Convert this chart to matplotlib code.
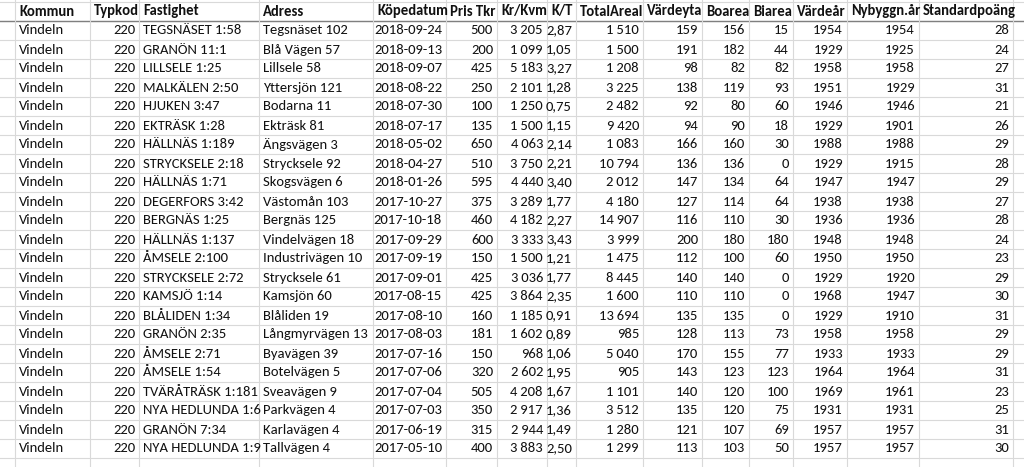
import matplotlib
matplotlib.use("Agg")
import matplotlib.pyplot as plt
from matplotlib import font_manager

headers = ["Kommun", "Typkod", "Fastighet", "Adress", "Köpedatum", "Pris Tkr", "Kr/Kvm", "K/T",
           "TotalAreal", "Värdeyta", "Boarea", "Biarea", "Värdeår", "Nybyggn.år", "Standardpoäng"]
kommun = ["Vindeln"] * 23
typkod = [220] * 23
fastighet = ["TEGSNÄSET 1:58", "GRANÖN 11:1", "LILLSELE 1:25", "MALKÄLEN 2:50", "HJUKEN 3:47", "EKTRÄSK 1:28",
             "HÄLLNÄS 1:189", "STRYCKSELE 2:18", "HÄLLNÄS 1:71", "DEGERFORS 3:42", "BERGNÄS 1:25", "HÄLLNÄS 1:137",
             "ÅMSELE 2:100", "STRYCKSELE 2:72", "KAMSJÖ 1:14", "BLÅLIDEN 1:34", "GRANÖN 2:35", "ÅMSELE 2:71",
             "ÅMSELE 1:54", "TVÄRÅTRÄSK 1:181", "NYA HEDLUNDA 1:6", "GRANÖN 7:34", "NYA HEDLUNDA 1:9"]
adress = ["Tegsnäset 102", "Blå Vägen 57", "Lillsele 58", "Yttersjön 121", "Bodarna 11", "Ekträsk 81",
          "Ängsvägen 3", "Strycksele 92", "Skogsvägen 6", "Västomån 103", "Bergnäs 125", "Vindelvägen 18",
          "Industrivägen 10", "Strycksele 61", "Kamsjön 60", "Blåliden 19", "Långmyrvägen 13", "Byavägen 39",
          "Botelvägen 5", "Sveavägen 9", "Parkvägen 4", "Karlavägen 4", "Tallvägen 4"]
kopedatum = ["2018-09-24", "2018-09-13", "2018-09-07", "2018-08-22", "2018-07-30", "2018-07-17", "2018-05-02",
             "2018-04-27", "2018-01-26", "2017-10-27", "2017-10-18", "2017-09-29", "2017-09-19", "2017-09-01",
             "2017-08-15", "2017-08-10", "2017-08-03", "2017-07-16", "2017-07-06", "2017-07-04", "2017-07-03",
             "2017-06-19", "2017-05-10"]
pris = [500, 200, 425, 250, 100, 135, 650, 510, 595, 375, 460, 600, 150, 425, 425, 160, 181, 150, 320, 505, 350, 315, 400]
krkvm = [3205, 1099, 5183, 2101, 1250, 1500, 4063, 3750, 4440, 3289, 4182, 3333, 1500, 3036, 3864, 1185, 1602, 968,
         2602, 4208, 2917, 2944, 3883]
kt = [2.87, 1.05, 3.27, 1.28, 0.75, 1.15, 2.14, 2.21, 3.40, 1.77, 2.27, 3.43, 1.21, 1.77, 2.35, 0.91, 0.89, 1.06,
      1.95, 1.67, 1.36, 1.49, 2.50]
totalareal = [1510, 1500, 1208, 3225, 2482, 9420, 1083, 10794, 2012, 4180, 14907, 3999, 1475, 8445, 1600, 13694,
              985, 5040, 905, 1101, 3512, 1280, 1299]
vardeyta = [159, 191, 98, 138, 92, 94, 166, 136, 147, 127, 116, 200, 112, 140, 110, 135, 128, 170, 143, 140, 135, 121, 113]
boarea = [156, 182, 82, 119, 80, 90, 160, 136, 134, 114, 110, 180, 100, 140, 110, 135, 113, 155, 123, 120, 120, 107, 103]
biarea = [15, 44, 82, 93, 60, 18, 30, 0, 64, 64, 30, 180, 60, 0, 0, 0, 73, 77, 123, 100, 75, 69, 50]
vardear = [1954, 1929, 1958, 1951, 1946, 1929, 1988, 1929, 1947, 1938, 1936, 1948, 1950, 1929, 1968, 1929, 1958,
           1933, 1964, 1969, 1931, 1957, 1957]
nybyggn = [1954, 1925, 1958, 1929, 1946, 1901, 1988, 1915, 1947, 1938, 1936, 1948, 1950, 1920, 1947, 1910, 1958,
           1933, 1964, 1961, 1931, 1957, 1957]
standard = [28, 24, 27, 31, 21, 26, 29, 28, 29, 27, 28, 24, 23, 29, 30, 31, 29, 29, 31, 23, 25, 31, 30]

def thou(v):
    return f"{v:,}".replace(",", "\u2009")

columns = [
    (kommun, str, "l"), (typkod, str, "r"), (fastighet, str, "l"), (adress, str, "l"),
    (kopedatum, str, "r"), (pris, str, "r"), (krkvm, thou, "r"), (kt, lambda v: f"{v:.2f}".replace(".", ","), "r"),
    (totalareal, thou, "r"), (vardeyta, str, "r"), (boarea, str, "r"), (biarea, str, "r"),
    (vardear, str, "r"), (nybyggn, str, "r"), (standard, str, "r"),
]
edges = [15, 90, 139, 259, 373, 446, 497, 547, 576, 643, 702, 749, 793, 847, 919, 1013]

available = {f.name for f in font_manager.fontManager.ttflist}
if "Carlito" in available:
    font, fs = "Carlito", 10.5
elif "Liberation Sans Narrow" in available:
    font, fs = "Liberation Sans Narrow", 10.0
else:
    font, fs = "Liberation Sans", 8.5

W, H = 1024, 467
fig = plt.figure(figsize=(W / 100, H / 100), dpi=100)
ax = fig.add_axes([0, 0, 1, 1])
ax.set_xlim(0, W)
ax.set_ylim(H, 0)
ax.axis("off")

row_h = 19
top = 1.5
nrows = len(kommun)
grid = "#d9d9d9"

for i in range(nrows + 3):
    y = top + i * row_h
    ax.plot([0, W], [y, y], color=grid, lw=0.8)
ax.plot([0, W], [top + row_h, top + row_h], color="#7f7f7f", lw=1.0)
for x in edges:
    ax.plot([x, x], [0, H], color=grid, lw=0.8)

pad = 4
for j, h in enumerate(headers):
    ax.text(edges[j] + pad, top + row_h / 2 + 0.5, h, ha="left", va="center", fontsize=fs,
            fontweight="bold", family=font, color="#111111")
for j, (vals, fmt, al) in enumerate(columns):
    for i, v in enumerate(vals):
        y = top + (i + 1.5) * row_h + 0.5
        if al == "l":
            ax.text(edges[j] + pad, y, fmt(v), ha="left", va="center", fontsize=fs, family=font, color="#111111")
        else:
            ax.text(edges[j + 1] - pad, y, fmt(v), ha="right", va="center", fontsize=fs, family=font, color="#111111")

fig.savefig("out.png", dpi=100)
